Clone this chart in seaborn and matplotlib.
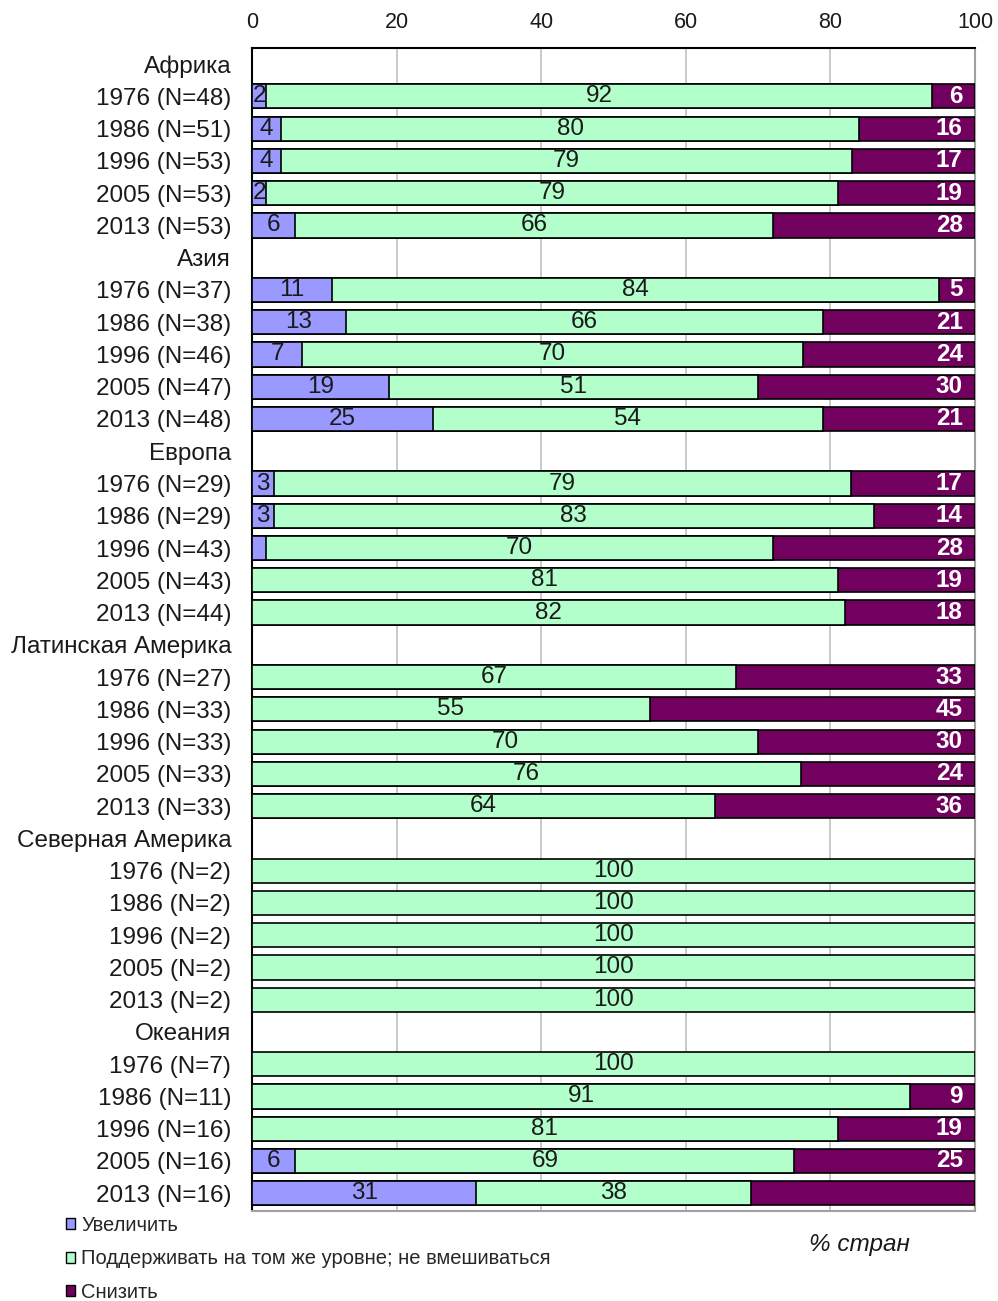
import numpy as np
import pandas as pd
import matplotlib
matplotlib.use("Agg")
import matplotlib.pyplot as plt
from matplotlib.patches import Patch
import seaborn as sns

sns.set_theme(style="white")
plt.rcParams['font.family'] = ['Liberation Sans', 'DejaVu Sans']

regions = ["Африка", "Азия", "Европа", "Латинская Америка", "Северная Америка", "Океания"]
years = ["1976", "1986", "1996", "2005", "2013"]
counts = [
    [48, 51, 53, 53, 53],
    [37, 38, 46, 47, 48],
    [29, 29, 43, 43, 44],
    [27, 33, 33, 33, 33],
    [2, 2, 2, 2, 2],
    [7, 11, 16, 16, 16],
]
increase = [
    [2, 4, 4, 2, 6],
    [11, 13, 7, 19, 25],
    [3, 3, 2, 0, 0],
    [0, 0, 0, 0, 0],
    [0, 0, 0, 0, 0],
    [0, 0, 0, 6, 31],
]
maintain = [
    [92, 80, 79, 79, 66],
    [84, 66, 70, 51, 54],
    [79, 83, 70, 81, 82],
    [67, 55, 70, 76, 64],
    [100, 100, 100, 100, 100],
    [100, 91, 81, 69, 38],
]
decrease = [
    [6, 16, 17, 19, 28],
    [5, 21, 24, 30, 21],
    [17, 14, 28, 19, 18],
    [33, 45, 30, 24, 36],
    [0, 0, 0, 0, 0],
    [0, 9, 19, 25, 31],
]
# labels that are not printed on the chart
hidden = {("Европа", "1996", "inc"), ("Океания", "2013", "dec")}

series_names = ["Увеличить", "Поддерживать на том же уровне; не вмешиваться", "Снизить"]
colors = ["#9999FF", "#B3FFCB", "#72005F"]

rows, ylabels = [], []
pos = 0
for ri, reg in enumerate(regions):
    ylabels.append(reg)
    pos += 1
    for yi, yr in enumerate(years):
        inc, mnt, dec = increase[ri][yi], maintain[ri][yi], decrease[ri][yi]
        tot = inc + mnt + dec
        s = 100.0 / tot  # shares of rounded values re-normalised to 100 %
        rows.append(dict(pos=pos, region=reg, year=yr, inc=inc, mnt=mnt, dec=dec,
                         c1=inc * s, c2=(inc + mnt) * s, c3=tot * s))
        ylabels.append(f"{yr} (N={counts[ri][yi]})")
        pos += 1
df = pd.DataFrame(rows)
order = list(range(len(ylabels)))

fig = plt.figure(figsize=(9.98, 13.01), dpi=100)
ax = fig.add_axes([252 / 998, 1 - 1211 / 1301, (975 - 252) / 998, (1211 - 48) / 1301])

common = dict(y="pos", orient="h", order=order, width=0.75, edgecolor="black",
              linewidth=1.2, ax=ax, zorder=3)
sns.barplot(data=df[df.dec > 0], x="c3", color=colors[2], saturation=1, **common)
sns.barplot(data=df, x="c2", color=colors[1], saturation=1, **common)
sns.barplot(data=df[df.inc > 0], x="c1", color=colors[0], saturation=1, **common)

fs = 17.5
for _, r in df.iterrows():
    y = order.index(r.pos)
    if r.inc > 0 and (r.region, r.year, "inc") not in hidden:
        ax.text(r.c1 / 2, y, str(r.inc), ha="center", va="center", fontsize=fs,
                color="#1a1a1a", zorder=5)
    if r.mnt > 0:
        ax.text((r.c1 + r.c2) / 2, y, str(r.mnt), ha="center", va="center", fontsize=fs,
                color="#1a1a1a", zorder=5)
    if r.dec > 0 and (r.region, r.year, "dec") not in hidden:
        ax.text(98.3, y, str(r.dec), ha="right", va="center", fontsize=fs,
                color="white", fontweight="bold", zorder=5)

ax.set_xlim(0, 100)
ax.set_ylim(len(ylabels) - 0.45, -0.5)
ax.set_xticks([0, 20, 40, 60, 80, 100])
ax.xaxis.tick_top()
ax.tick_params(axis="x", length=0, pad=11, labelsize=15.5, labelcolor="#1a1a1a")
ax.set_yticks(range(len(ylabels)))
ax.set_yticklabels(ylabels)
ax.tick_params(axis="y", length=0, pad=15, labelsize=fs, labelcolor="#1a1a1a")
ax.set_xlabel("")
ax.set_ylabel("")
ax.grid(axis="x", color="#C0C0C0", linewidth=1.2, zorder=0)
ax.grid(axis="y", visible=False)
ax.set_axisbelow(True)
for side, sp in ax.spines.items():
    sp.set_visible(True)
    sp.set_linewidth(1.5)
    sp.set_color("black" if side in ("left", "top") else "#A0A0A0")

handles = [Patch(facecolor=c, edgecolor="black", linewidth=1.0) for c in colors]
fig.legend(handles, series_names, loc="upper left", bbox_to_anchor=(66 / 998, 1 - 1216 / 1301),
           frameon=False, fontsize=14.5, handlelength=0.45, handleheight=0.45,
           handletextpad=0.3, labelspacing=0.72, borderaxespad=0, borderpad=0)
fig.text(859 / 998, 1 - 1244 / 1301, "% стран", ha="center", va="center",
         fontsize=17.5, fontstyle="italic", color="#1a1a1a")

fig.savefig("out.png", dpi=100)
